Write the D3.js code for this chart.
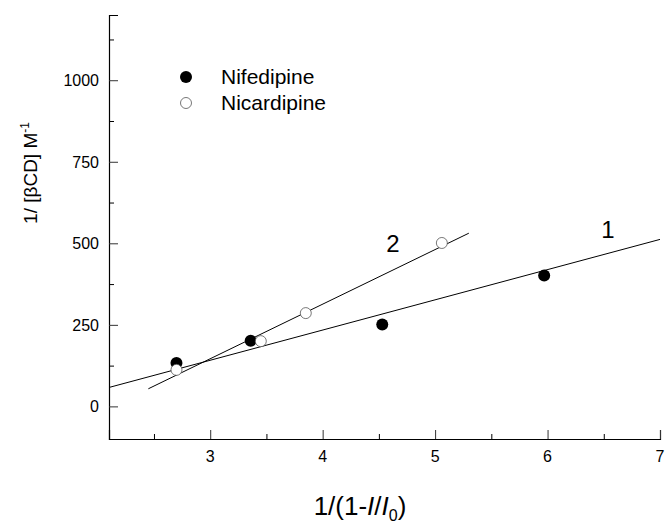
<!DOCTYPE html>
<html>
<head>
<meta charset="utf-8">
<script src="https://cdn.jsdelivr.net/npm/d3@7"></script>
<style>
  body { margin: 0; background: #fff; }
  text { font-family: "Liberation Sans", Arial, Helvetica, sans-serif; }
</style>
</head>
<body>
<script>
// data
var nifeX = [2.70, 3.36, 4.53, 5.97];
var nifeY = [133, 201, 251, 401];
var nicaX = [2.70, 3.45, 3.85, 5.06];
var nicaY = [112, 200, 286, 501];

// fitted lines, as end points in data units
var line1X = [2.1, 7.0], line1Y = [58, 512];
var line2X = [2.45, 5.30], line2Y = [54, 531];

var xTicks = [3, 4, 5, 6, 7];
var yTicks = [0, 250, 500, 750, 1000];

// define size
var width = 665, height = 524;
var margin = {left: 109, right: 5, top: 15, bottom: 85};

var svg = d3.select("body").append("svg")
    .attr("width", width)
    .attr("height", height);

// define scales
var x = d3.scaleLinear().domain([2.1, 7]).range([margin.left, 660]);
var y = d3.scaleLinear().domain([-100, 1200]).range([439, margin.top]);

// x axis, ticks inside
var xAxis = svg.append("g")
    .attr("transform", "translate(0," + y.range()[0] + ")")
    .call(d3.axisBottom(x).tickValues(xTicks).tickSize(-9).tickFormat(""));
xAxis.select(".domain").attr("stroke", "#000").attr("stroke-width", 1.2);
xAxis.selectAll("line").attr("stroke", "#333");

svg.append("g")
    .attr("transform", "translate(0," + y.range()[0] + ")")
    .call(d3.axisBottom(x).tickValues([2.5, 3.5, 4.5, 5.5, 6.5]).tickSize(-5).tickFormat(""))
  .select(".domain").remove();

// y axis, ticks inside
var yAxis = svg.append("g")
    .attr("transform", "translate(" + x.range()[0] + ",0)")
    .call(d3.axisLeft(y).tickValues(yTicks).tickSize(-9).tickFormat(""));
yAxis.select(".domain").attr("stroke", "#000").attr("stroke-width", 1.2);
yAxis.selectAll("line").attr("stroke", "#333");

svg.append("g")
    .attr("transform", "translate(" + x.range()[0] + ",0)")
    .call(d3.axisLeft(y).tickValues([125, 375, 625, 875, 1125]).tickSize(-5).tickFormat(""))
  .select(".domain").remove();

// tick labels
svg.append("g").selectAll("text")
    .data(xTicks)
    .enter().append("text")
      .attr("x", function(d) { return x(d); })
      .attr("y", 462)
      .attr("text-anchor", "middle")
      .style("font-size", "16px")
      .text(function(d) { return d; });

svg.append("g").selectAll("text")
    .data(yTicks)
    .enter().append("text")
      .attr("x", 99)
      .attr("y", function(d) { return y(d) + 6; })
      .attr("text-anchor", "end")
      .style("font-size", "16px")
      .text(function(d) { return d; });

// fitted lines
var lineGen = d3.line()
    .x(function(d) { return x(d[0]); })
    .y(function(d) { return y(d[1]); });

svg.append("path")
    .datum(d3.zip(line1X, line1Y))
    .attr("d", lineGen)
    .attr("fill", "none")
    .attr("stroke", "#000")
    .attr("stroke-width", 1);

svg.append("path")
    .datum(d3.zip(line2X, line2Y))
    .attr("d", lineGen)
    .attr("fill", "none")
    .attr("stroke", "#000")
    .attr("stroke-width", 1);

// points
svg.append("g").selectAll("circle")
    .data(d3.zip(nifeX, nifeY))
    .enter().append("circle")
      .attr("cx", function(d) { return x(d[0]); })
      .attr("cy", function(d) { return y(d[1]); })
      .attr("r", 6)
      .attr("fill", "#000");

svg.append("g").selectAll("circle")
    .data(d3.zip(nicaX, nicaY))
    .enter().append("circle")
      .attr("cx", function(d) { return x(d[0]); })
      .attr("cy", function(d) { return y(d[1]); })
      .attr("r", 5.5)
      .attr("fill", "#fff")
      .attr("stroke", "#555")
      .attr("stroke-width", 0.8);

// line labels
svg.append("text").attr("x", 393).attr("y", 252).attr("text-anchor", "middle")
    .style("font-size", "24px").text("2");
svg.append("text").attr("x", 608).attr("y", 238).attr("text-anchor", "middle")
    .style("font-size", "24px").text("1");

// legend
svg.append("circle").attr("cx", 186).attr("cy", 77).attr("r", 6).attr("fill", "#000");
svg.append("circle").attr("cx", 186).attr("cy", 103).attr("r", 5.5)
    .attr("fill", "#fff").attr("stroke", "#555").attr("stroke-width", 0.8);
svg.append("text").attr("x", 221).attr("y", 84).style("font-size", "21px").text("Nifedipine");
svg.append("text").attr("x", 221).attr("y", 110).style("font-size", "21px").text("Nicardipine");

// axis titles
var yt = svg.append("text")
    .attr("transform", "translate(37,173) rotate(-90)")
    .attr("text-anchor", "middle")
    .style("font-size", "19px");
yt.append("tspan").text("1/ [\u03B2CD]  M");
yt.append("tspan").style("font-size", "12px").attr("dy", -8).text("-1");

var xt = svg.append("text")
    .attr("x", 360).attr("y", 515)
    .attr("text-anchor", "middle")
    .style("font-size", "26px");
xt.append("tspan").text("1/(1-");
xt.append("tspan").attr("font-style", "italic").text("I");
xt.append("tspan").text("/");
xt.append("tspan").attr("font-style", "italic").text("I");
xt.append("tspan").style("font-size", "16px").attr("dy", 6).text("0");
xt.append("tspan").attr("dy", -6).text(")");
</script>
</body>
</html>
